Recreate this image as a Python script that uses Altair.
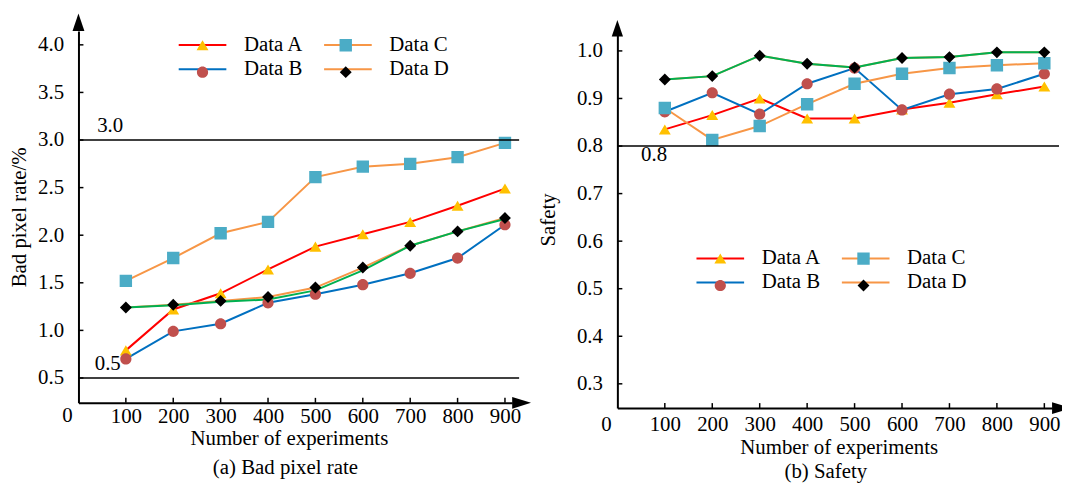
import altair as alt
import pandas as pd

FONT = "Liberation Serif"

experiments = [100, 200, 300, 400, 500, 600, 700, 800, 900]
series_names = ["Data A", "Data B", "Data C", "Data D"]

# (a) Bad pixel rate /%
bad_a = [0.79, 1.22, 1.39, 1.64, 1.88, 2.01, 2.14, 2.31, 2.49]
bad_b = [0.70, 0.99, 1.07, 1.29, 1.38, 1.48, 1.60, 1.76, 2.11]
bad_c = [1.52, 1.76, 2.02, 2.14, 2.61, 2.72, 2.75, 2.82, 2.97]
bad_d = [1.24, 1.27, 1.31, 1.35, 1.45, 1.66, 1.89, 2.04, 2.18]
bad_d_green = [1.24, 1.265, 1.30, 1.325, 1.42, 1.63, 1.89, 2.04, 2.17]

# (b) Safety
safe_a = [0.835, 0.865, 0.900, 0.858, 0.858, 0.877, 0.891, 0.909, 0.925]
safe_b = [0.872, 0.912, 0.867, 0.931, 0.964, 0.876, 0.909, 0.920, 0.952]
safe_c = [0.880, 0.813, 0.842, 0.888, 0.931, 0.952, 0.964, 0.970, 0.974]
safe_d = [0.940, 0.947, 0.990, 0.973, 0.965, 0.985, 0.987, 0.997, 0.997]

bad_ticks = [0.5, 1.0, 1.5, 2.0, 2.5, 3.0, 3.5, 4.0]
safe_ticks = [0.3, 0.4, 0.5, 0.6, 0.7, 0.8, 0.9, 1.0]
bad_refs = [3.0, 0.5]
safe_refs = [0.8]

line_colors = ["#FF0000", "#0070C0", "#F79646", "#F79646"]
marker_fills = ["#FFC000", "#C0504D", "#4BACC6", "#000000"]
green = "#00B050"
# marker outlines (unit = 6 px); the zero-length sub-paths only widen the legend entry box
# so that the marker legend is laid out exactly like the line legend beneath it
EXT = "M-3.54,0L-3.54,0M7.54,0L7.54,0M0,-1.29L0,-1.29M0,1.29L0,1.29"
marker_paths = [
    "M0,-0.84L1,0.84L-1,0.84Z" + EXT,
    "M0.94,0A0.94,0.94 0 1,1 -0.94,0A0.94,0.94 0 1,1 0.94,0Z" + EXT,
    "M-1.04,-1.04L1.04,-1.04L1.04,1.04L-1.04,1.04Z" + EXT,
    "M0,-1L1,0L0,1L-1,0Z" + EXT,
]
SYM = 144
PLOT_W, PLOT_H = 981, 380


def long_df(values_list):
    rows = []
    for name, vals in zip(series_names, values_list):
        for x, v in zip(experiments, vals):
            rows.append({"x": x, "value": v, "series": name, "marker": name + " "})
    return pd.DataFrame(rows)


def panel(df, green_vals, ticks, refs, anns, p):
    x0, x1, yb = p["x0"], p["x1"], p["yb"]
    xs = alt.Scale(domain=[0, p["xmax"]], range=[x0, x1], nice=False, zero=False)
    ys = alt.Scale(domain=[p["ymin"], p["ymax"]], range=[yb, 0], nice=False, zero=False)
    xaxis = alt.Axis(orient="bottom", offset=yb - PLOT_H, values=experiments,
                     title="Number of experiments", grid=False, ticks=False,
                     tickSize=0, domainColor="black", domainWidth=2, labelFont=FONT, labelFontSize=21,
                     labelColor="black", labelPadding=p["xlp"], labelAngle=0, labelFlush=False,
                     labelOverlap=False, format="d", titleFont=FONT, titleFontSize=21,
                     titleFontWeight="normal", titleColor="black", titleX=p["xtx"], titleY=p["xty"],
                     titleAlign="center", titleBaseline="top")
    yaxis = alt.Axis(orient="left", offset=-x0, values=ticks, title=p["ytitle"], grid=False,
                     ticks=False, tickSize=0, domainColor="black", domainWidth=2, labelFont=FONT,
                     labelFontSize=21, labelColor="black", labelPadding=15, labelFlush=False,
                     labelOverlap=False, format=".1f", titleFont=FONT, titleFontSize=21,
                     titleFontWeight="normal", titleColor="black", titleX=p["ytx"],
                     titleY=yb / 2, titleAngle=270, titleAlign="center", titleBaseline="bottom")
    common_leg = dict(orient="none", legendX=p["lx"], legendY=p["ly"], columns=2,
                      rowPadding=2.5, labelFont=FONT, labelFontSize=21,
                      labelColor="black", labelOffset=31.2, padding=0, symbolSize=SYM,
                      symbolStrokeWidth=2, title=None)
    lines = alt.Chart(df).mark_line(strokeWidth=2).encode(
        x=alt.X("x:Q", scale=xs, axis=xaxis),
        y=alt.Y("value:Q", scale=ys, axis=yaxis),
        stroke=alt.Stroke("series:N",
                          scale=alt.Scale(domain=series_names, range=line_colors),
                          legend=alt.Legend(symbolType="M-4,0L4,0", columnPadding=15.5, **common_leg)),
    )
    gdf = pd.DataFrame({"x": experiments, "value": green_vals})
    gline = alt.Chart(gdf).mark_line(strokeWidth=2, color=green).encode(x="x:Q", y="value:Q")
    mleg = alt.Legend(labelExpr="''", columnPadding=69.3,
                      symbolStrokeColor="transparent", symbolOpacity=1, **common_leg)
    marker_domain = [s + " " for s in series_names]
    points = alt.Chart(df).mark_point(filled=True, opacity=1, size=SYM).encode(
        x="x:Q", y="value:Q",
        shape=alt.Shape("marker:N", scale=alt.Scale(domain=marker_domain, range=marker_paths),
                        legend=mleg),
        fill=alt.Fill("marker:N", scale=alt.Scale(domain=marker_domain, range=marker_fills),
                      legend=mleg),
    )
    rdf = pd.DataFrame({"value": refs})
    rules = alt.Chart(rdf).mark_rule(color="black", strokeWidth=1.5).encode(
        y="value:Q", x=alt.value(x0), x2=alt.value(x1 + 7))
    layers = [rules]
    for (label, val, px, dy) in anns:
        adf = pd.DataFrame({"value": [val], "label": [label]})
        layers.append(alt.Chart(adf).mark_text(font=FONT, fontSize=21, color="black", align="center",
                                               baseline="middle", dy=dy).encode(
            y="value:Q", x=alt.value(x0 + px), text="label:N"))
    ytdf = pd.DataFrame({"value": ticks})
    layers.append(alt.Chart(ytdf).mark_rule(color="black", strokeWidth=1.5).encode(
        y="value:Q", x=alt.value(x0), x2=alt.value(x0 + 5)))
    xtdf = pd.DataFrame({"x": experiments})
    layers.append(alt.Chart(xtdf).mark_rule(color="black", strokeWidth=1.5).encode(
        x="x:Q", y=alt.value(yb), y2=alt.value(yb - 5)))
    odf = pd.DataFrame({"x": [0], "label": ["0"]})
    layers.append(alt.Chart(odf).mark_text(font=FONT, fontSize=21, color="black", align="center",
                                           baseline="top", dx=-11).encode(
        x="x:Q", y=alt.value(yb + p["xlp"]), text="label:N"))
    layers.append(alt.Chart(odf).mark_point(shape="M0,-1L0.68,1L-0.68,1Z", filled=True, color="black",
                                            opacity=1, strokeWidth=0, size=p["yas"]).encode(
        x="x:Q", y=alt.value(p["yay"])))
    layers.append(alt.Chart(odf).mark_point(shape="M1,0L-1,0.63L-1,-0.63Z", filled=True, color="black",
                                            opacity=1, strokeWidth=0, size=361).encode(
        x=alt.value(x1 + 9.5), y=alt.value(yb)))
    cdf = pd.DataFrame({"label": [p["caption"]]})
    layers.append(alt.Chart(cdf).mark_text(font=FONT, fontSize=21, color="black", align="center",
                                           baseline="middle").encode(
        x=alt.value(p["cx"]), y=alt.value(p["cy"]), text="label:N"))
    return alt.layer(lines, gline, points, *layers)


pa = dict(x0=0, x1=437, yb=374.7, xmax=915.2, ymin=0.239, ymax=4.146, xlp=2.5, xtx=212, xty=25.3,
          ytitle="Bad pixel rate/%", ytx=-49.7, lx=114.5, ly=3.5, yas=310, yay=-8.8,
          caption="(a) Bad pixel rate", cx=208.5, cy=440.5)
pb = dict(x0=543, x1=981, yb=380, xmax=916.3, ymin=0.249, ymax=1.042, xlp=6.0, xtx=766, xty=28.6,
          ytitle="Safety", ytx=-59.5, lx=636.2, ly=218.5, yas=279, yay=-2.65,
          caption="(b) Safety", cx=753, cy=444.8)

panel_a = panel(long_df([bad_a, bad_b, bad_c, bad_d]), bad_d_green, bad_ticks, bad_refs,
                [("3.0", 3.0, 32, -14), ("0.5", 0.5, 29.5, -14)], pa)
panel_b = panel(long_df([safe_a, safe_b, safe_c, safe_d]), safe_d, safe_ticks, safe_refs,
                [("0.8", 0.8, 37, 9.5)], pb)

chart = alt.layer(panel_a, panel_b).resolve_scale(
    x="independent", y="independent", stroke="independent", shape="independent", fill="independent"
).resolve_legend(stroke="independent", shape="independent", fill="independent").properties(
    width=PLOT_W, height=PLOT_H,
    autosize=alt.AutoSizeParams(type="none"),
    padding={"left": 71, "top": 21.3, "right": 10, "bottom": 77.7},
    background="white",
).configure_view(stroke=None)

chart.save("out.html", embed_options={"renderer": "svg", "actions": False})
